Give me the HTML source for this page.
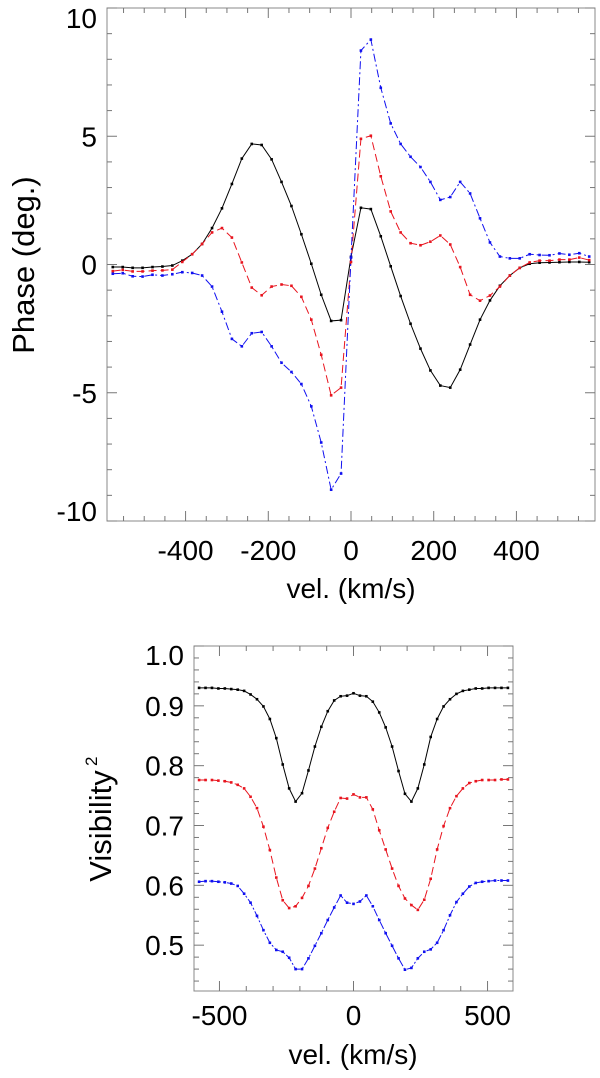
<!DOCTYPE html>
<html><head><meta charset="utf-8"><style>
html,body{margin:0;padding:0;background:#fff;}
svg{display:block;font-family:"Liberation Sans",Arial,sans-serif;}
</style></head><body>
<svg id="chart" width="600" height="1078" viewBox="0 0 600 1078" xmlns="http://www.w3.org/2000/svg">
<g id="topPanel"></g>
<g id="botPanel"></g>
</svg>
<script>
const velocities = [-576,-552,-528,-504,-480,-456,-432,-408,-384,-360,-336,-312,-288,-264,-240,-216,-192,-168,-144,-120,-96,-72,-48,-24,0,24,48,72,96,120,144,168,192,216,240,264,288,312,336,360,384,408,432,456,480,504,528,552,576];
const phaseBlack = [-0.1,-0.1,-0.13,-0.13,-0.1,-0.08,-0.04,0.15,0.4,0.8,1.42,2.19,3.14,4.13,4.7,4.66,4.1,3.22,2.28,1.18,0.03,-1.18,-2.2,-2.17,0.3,2.21,2.16,1.1,-0.07,-1.23,-2.31,-3.28,-4.13,-4.72,-4.8,-4.1,-3.12,-2.15,-1.4,-0.83,-0.43,-0.13,0.03,0.07,0.08,0.09,0.1,0.1,0.09];
const phaseRed = [-0.26,-0.21,-0.27,-0.27,-0.24,-0.23,-0.2,0.1,0.4,0.8,1.25,1.42,1.05,0.08,-0.9,-1.2,-0.86,-0.78,-0.83,-1.26,-2.15,-3.52,-5.1,-4.8,0.1,4.9,5.02,3.44,2.07,1.25,0.83,0.75,0.89,1.13,0.78,-0.1,-1.18,-1.41,-1.21,-0.86,-0.43,-0.13,0.08,0.15,0.15,0.19,0.19,0.27,0.17];
const phaseBlue = [-0.36,-0.34,-0.46,-0.47,-0.4,-0.43,-0.38,-0.3,-0.33,-0.43,-0.86,-1.84,-2.9,-3.19,-2.68,-2.63,-3.19,-3.83,-4.19,-4.66,-5.53,-6.94,-8.78,-8.15,0.27,8.34,8.77,6.89,5.5,4.7,4.2,3.8,3.22,2.52,2.63,3.22,2.77,1.8,0.86,0.31,0.24,0.24,0.4,0.37,0.36,0.43,0.38,0.44,0.31];
const visBlack = [0.930,0.930,0.930,0.929,0.929,0.928,0.927,0.925,0.919,0.911,0.899,0.878,0.846,0.802,0.762,0.740,0.754,0.792,0.832,0.865,0.891,0.909,0.916,0.917,0.921,0.917,0.916,0.907,0.889,0.864,0.832,0.791,0.753,0.740,0.762,0.802,0.848,0.878,0.899,0.911,0.920,0.925,0.927,0.929,0.929,0.930,0.930,0.930,0.930];
const visRed = [0.776,0.776,0.776,0.775,0.774,0.772,0.768,0.762,0.748,0.729,0.698,0.659,0.613,0.575,0.562,0.565,0.579,0.599,0.628,0.662,0.696,0.723,0.746,0.745,0.752,0.747,0.747,0.727,0.692,0.660,0.628,0.599,0.578,0.567,0.559,0.576,0.611,0.660,0.699,0.729,0.749,0.762,0.771,0.774,0.776,0.776,0.776,0.777,0.777];
const visBlue = [0.606,0.607,0.607,0.606,0.605,0.603,0.599,0.586,0.571,0.549,0.525,0.504,0.492,0.489,0.479,0.460,0.460,0.478,0.499,0.520,0.542,0.563,0.583,0.571,0.569,0.573,0.583,0.565,0.542,0.520,0.499,0.478,0.459,0.462,0.478,0.489,0.493,0.504,0.525,0.550,0.572,0.586,0.598,0.604,0.606,0.607,0.608,0.608,0.608];
const topXTicks = [-400,-200,0,200,400];
const topYTicks = [-10,-5,0,5,10];
const botXTicks = [-500,0,500];
const botYTicks = [0.5,0.6,0.7,0.8,0.9,1.0];

const NS='http://www.w3.org/2000/svg';
function mk(parent,tag,attrs){const e=document.createElementNS(NS,tag);for(const k in attrs)e.setAttribute(k,attrs[k]);parent.appendChild(e);return e;}

function panel(g,cfg){
  const {L,R,T,B,xmin,xmax,ymin,ymax}=cfg;
  const sx=v=>L+(v-xmin)/(xmax-xmin)*(R-L);
  const sy=v=>B-(v-ymin)/(ymax-ymin)*(B-T);
  const frame=mk(g,'rect',{x:L,y:T,width:R-L,height:B-T,fill:'none',stroke:'#888','stroke-width':1});
  
  
  for(let i=Math.ceil(xmin/cfg.xminor);i*cfg.xminor<=xmax;i++){
    const v=i*cfg.xminor;
    const maj=Math.abs(v/cfg.xmajor-Math.round(v/cfg.xmajor))<1e-6;const len=maj?10:5;
    const t1=mk(g,'line',{x1:sx(v),x2:sx(v),y1:B,y2:B-len,stroke:'#777','stroke-width':1});
    
    
    const t2=mk(g,'line',{x1:sx(v),x2:sx(v),y1:T,y2:T+len,stroke:'#777','stroke-width':1});
    
    
  }
  for(let i=Math.ceil(ymin/cfg.yminor-1e-6);i*cfg.yminor<=ymax+1e-9;i++){
    const v=i*cfg.yminor;
    const maj=Math.abs(v/cfg.ymajor-Math.round(v/cfg.ymajor))<1e-6;const len=maj?10:5;
    const t1=mk(g,'line',{x1:L,x2:L+len,y1:sy(v),y2:sy(v),stroke:'#777','stroke-width':1});
    
    
    const t2=mk(g,'line',{x1:R,x2:R-len,y1:sy(v),y2:sy(v),stroke:'#777','stroke-width':1});
    
    
  }
  cfg.xticks.forEach(v=>{
    const t=mk(g,'text',{x:sx(v),y:cfg.xlabY,'text-anchor':'middle','font-size':28,fill:'#000'});
    t.textContent=String(v);
    
    
  });
  cfg.yticks.forEach(v=>{
    let y=sy(v)+10;
    if(y<T+cfg.topMin) y=T+cfg.topMin; if(y>B) y=B;
    const t=mk(g,'text',{x:L-10,y:y,'text-anchor':'end','font-size':28,fill:'#000'});
    t.textContent=cfg.yfmt(v);
    
    
  });
  cfg.series.forEach(s=>{
    const pts=velocities.map((v,i)=>sx(v).toFixed(2)+','+sy(s.data[i]).toFixed(2)).join(' ');
    const pl=mk(g,'polyline',{points:pts,fill:'none',stroke:s.color,'stroke-width':1,'stroke-dasharray':s.dash});
    
    
    velocities.forEach((v,i)=>{
      const r=mk(g,'rect',{x:sx(v)-1.3,y:sy(s.data[i])-1.3,width:2.6,height:2.6,fill:s.color});
      
      
    });
  });
}

const topG=document.getElementById('topPanel');
panel(topG,{L:107,R:595,T:8,B:521,xmin:-590,xmax:590,ymin:-10,ymax:10,xminor:50,xmajor:200,yminor:1,ymajor:5,topMin:20,
  xticks:topXTicks,yticks:topYTicks,xlabY:560,yfmt:v=>String(v),
  series:[{name:'phase-black',data:phaseBlack,color:'#000',dash:'none'},
          {name:'phase-red',data:phaseRed,color:'#e8141e',dash:'8,4'},
          {name:'phase-blue',data:phaseBlue,color:'#1010f0',dash:'8,3,2,3'}]});
const botG=document.getElementById('botPanel');
panel(botG,{L:194,R:513,T:646,B:991,xmin:-595,xmax:595,ymin:0.4234,ymax:1.0,xminor:100,xmajor:500,yminor:0.02,ymajor:0.1,topMin:19,
  xticks:botXTicks,yticks:botYTicks,xlabY:1025,yfmt:v=>v.toFixed(1),
  series:[{name:'vis-black',data:visBlack,color:'#000',dash:'none'},
          {name:'vis-red',data:visRed,color:'#e8141e',dash:'8,4'},
          {name:'vis-blue',data:visBlue,color:'#1010f0',dash:'8,2,2,2'}]});

let t=mk(topG,'text',{x:351,y:598,'text-anchor':'middle','font-size':28});
t.textContent='vel. (km/s)';


t=mk(topG,'text',{x:0,y:0,'text-anchor':'middle','font-size':31,transform:'translate(34,265) rotate(-90)'});
t.textContent='Phase (deg.)';


t=mk(botG,'text',{x:353,y:1064,'text-anchor':'middle','font-size':28});
t.textContent='vel. (km/s)';


t=mk(botG,'text',{x:0,y:0,'text-anchor':'middle','font-size':31,transform:'translate(111,826) rotate(-90)'});
t.textContent='Visibility';


const sup=mk(botG,'text',{x:0,y:0,'font-size':17,transform:'translate(97,766) rotate(-90)'});
sup.textContent='2';


</script>
</body></html>
